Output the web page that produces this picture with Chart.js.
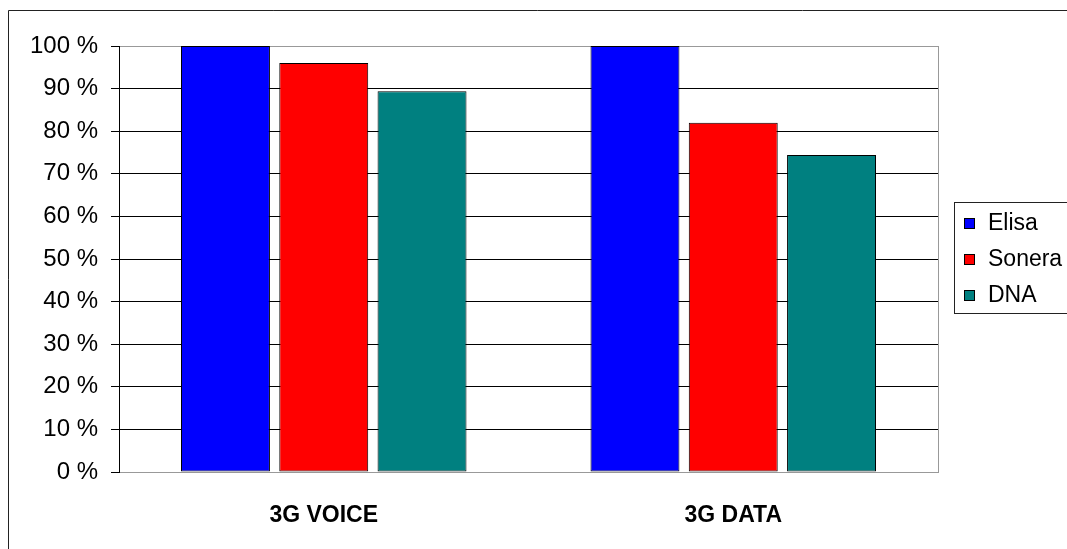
<!DOCTYPE html>
<html>
<head>
<meta charset="utf-8">
<script src="https://cdn.jsdelivr.net/npm/chart.js@4/dist/chart.umd.min.js"></script>
<style>
  body { margin: 0; background: #fff; }
  canvas { display: block; }
</style>
</head>
<body>
<canvas id="chart" width="1067" height="549"></canvas>
<script>
const categories = ['3G VOICE', '3G DATA'];
const seriesNames = ['Elisa', 'Sonera', 'DNA'];
const elisaValues = [100, 100];
const soneraValues = [96, 82];
const dnaValues = [89.4, 74.4];
const seriesColors = ['#0000FF', '#FF0000', '#008080'];

const font = 'Arial, "Liberation Sans", sans-serif';

// outer frame, right plot border and legend box
const framePlugin = {
  id: 'frame',
  afterDraw(chart) {
    const c = chart.ctx;
    const a = chart.chartArea;
    c.save();
    c.lineWidth = 1;

    c.strokeStyle = '#222';
    c.beginPath();
    c.moveTo(8.5, chart.height);
    c.lineTo(8.5, 10.5);
    c.lineTo(chart.width, 10.5);
    c.stroke();

    c.strokeStyle = '#999';
    c.beginPath();
    c.moveTo(Math.round(a.right) + 0.5, a.top);
    c.lineTo(Math.round(a.right) + 0.5, a.bottom);
    c.stroke();

    // legend
    const lx = Math.round(a.right) + 16;
    c.strokeStyle = '#222';
    c.strokeRect(lx + 0.5, 202.5, chart.width - lx, 111);
    c.font = '23px ' + font;
    c.textBaseline = 'middle';
    c.textAlign = 'left';
    chart.data.datasets.forEach((ds, i) => {
      const y = 223 + i * 36;
      c.fillStyle = ds.backgroundColor;
      c.fillRect(lx + 10, y - 5, 11, 11);
      c.strokeStyle = '#000';
      c.strokeRect(lx + 10.5, y - 4.5, 10, 10);
      c.fillStyle = '#000';
      c.fillText(ds.label, lx + 34, y + 1);
    });
    c.restore();
  }
};

const values = [elisaValues, soneraValues, dnaValues];

new Chart(document.getElementById('chart'), {
  type: 'bar',
  data: {
    labels: categories,
    datasets: seriesNames.map((name, i) => ({
      label: name,
      data: values[i],
      backgroundColor: seriesColors[i],
      borderColor: '#000',
      borderWidth: 1,
      borderSkipped: false,
      categoryPercentage: 0.72,
      barPercentage: 0.905
    }))
  },
  options: {
    responsive: false,
    animation: false,
    layout: { padding: { top: 46, right: 129, left: 0, bottom: 0 } },
    plugins: {
      legend: { display: false },
      tooltip: { enabled: false }
    },
    scales: {
      x: {
        afterFit(scale) { scale.height = 77; },
        grid: { display: false, drawTicks: false },
        border: { color: '#999', width: 1 },
        ticks: {
          color: '#000',
          padding: 30,
          font: { family: font, size: 23, weight: 'bold' }
        }
      },
      y: {
        min: 0,
        max: 100,
        afterFit(scale) { scale.width = 119; },
        border: { color: '#000', width: 1 },
        grid: {
          color: ctx => (ctx.tick && (ctx.tick.value === 0 || ctx.tick.value === 100)) ? '#999' : '#000',
          tickColor: '#000',
          tickLength: 8
        },
        ticks: {
          stepSize: 10,
          color: '#000',
          padding: 13,
          font: { family: font, size: 24 },
          callback: v => v + ' %'
        }
      }
    }
  },
  plugins: [framePlugin]
});
</script>
</body>
</html>
